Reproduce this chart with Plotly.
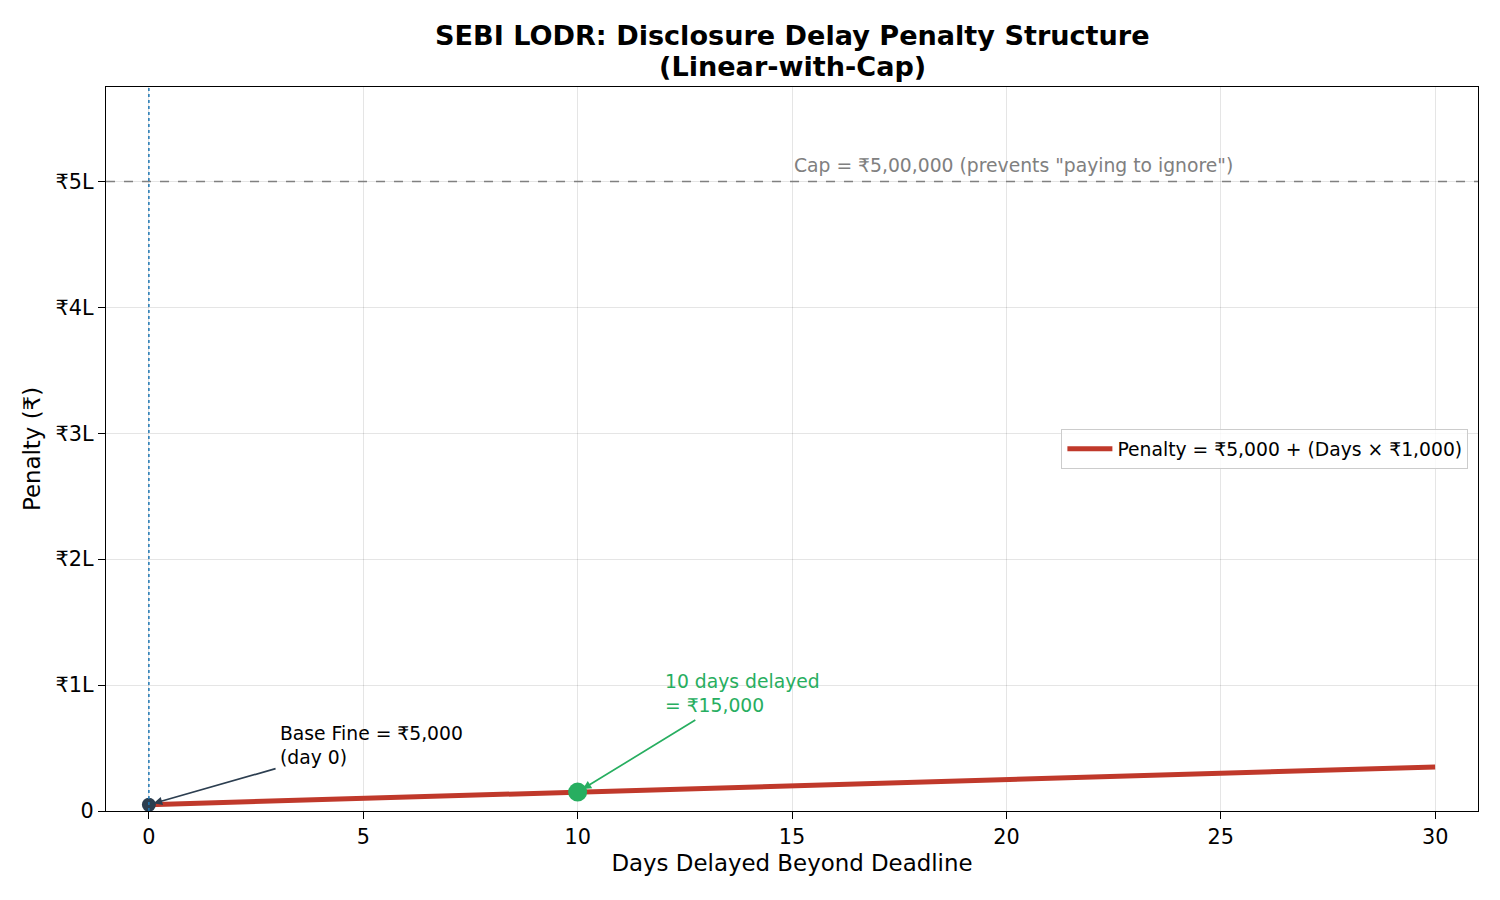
import plotly.graph_objects as go

days = [0, 1, 2, 3, 4, 5, 6, 7, 8, 9, 10, 11, 12, 13, 14, 15, 16, 17, 18, 19, 20,
        21, 22, 23, 24, 25, 26, 27, 28, 29, 30]
penalty = [5000, 6000, 7000, 8000, 9000, 10000, 11000, 12000, 13000, 14000, 15000,
           16000, 17000, 18000, 19000, 20000, 21000, 22000, 23000, 24000, 25000,
           26000, 27000, 28000, 29000, 30000, 31000, 32000, 33000, 34000, 35000]
cap_value = 500000
base_point = (0, 5000)
example_point = (10, 15000)
y_tick_vals = [0, 100000, 200000, 300000, 400000, 500000]
y_tick_text = ["0", "₹1L", "₹2L", "₹3L", "₹4L", "₹5L"]
x_tick_vals = [0, 5, 10, 15, 20, 25, 30]
title_lines = ["SEBI LODR: Disclosure Delay Penalty Structure", "(Linear-with-Cap)"]

FONT = "DejaVu Sans"
SMALL = 18.75
TICK = 20.8
LABEL = 22.9
TITLE = 27.1

fig = go.Figure()

fig.add_trace(go.Scatter(
    x=days, y=penalty, mode="lines",
    line=dict(color="#c0392b", width=5),
    name="Penalty = ₹5,000 + (Days × ₹1,000)",
))
fig.add_trace(go.Scatter(
    x=[base_point[0]], y=[base_point[1]], mode="markers",
    marker=dict(color="#2c3e50", size=14), showlegend=False,
))
fig.add_trace(go.Scatter(
    x=[example_point[0]], y=[example_point[1]], mode="markers",
    marker=dict(color="#27ae60", size=19), showlegend=False,
))

fig.add_shape(type="line", xref="paper", x0=0, x1=1, yref="y", y0=cap_value, y1=cap_value,
              line=dict(color="gray", width=1.6, dash="dash"))
fig.add_shape(type="line", xref="x", x0=0, x1=0, yref="paper", y0=0, y1=1,
              line=dict(color="#1f77b4", width=1.5, dash="dot"))

annotations = [
    # two-line bold title
    dict(x=0.5, y=1 + (87 - 36) / 724, xref="paper", yref="paper", text="<b>" + title_lines[0] + "</b>",
         showarrow=False, xanchor="center", yanchor="middle",
         font=dict(family=FONT, size=TITLE, color="black")),
    dict(x=0.5, y=1 + (87 - 66) / 724, xref="paper", yref="paper", text="<b>" + title_lines[1] + "</b>",
         showarrow=False, xanchor="center", yanchor="middle",
         font=dict(family=FONT, size=TITLE, color="black")),
    dict(x=15, y=cap_value + 3000, xref="x", yref="y", text="Cap = ₹5,00,000 (prevents \"paying to ignore\")",
         showarrow=False, xanchor="left", yanchor="bottom",
         font=dict(family=FONT, size=SMALL, color="gray")),
    dict(x=base_point[0], y=base_point[1], ax=2.99, ay=34000, xref="x", yref="y",
         axref="x", ayref="y", text="", showarrow=True, arrowhead=2, arrowsize=1,
         arrowwidth=1.7, arrowcolor="#2c3e50", standoff=5),
    dict(x=3, y=71500, xref="x", yref="y", text="Base Fine = ₹5,000<br>(day 0)",
         showarrow=False, xanchor="left", yanchor="top", align="left",
         font=dict(family=FONT, size=SMALL, color="black")),
    dict(x=example_point[0], y=example_point[1], ax=12.78, ay=73000, xref="x", yref="y",
         axref="x", ayref="y", text="", showarrow=True, arrowhead=2, arrowsize=1,
         arrowwidth=1.7, arrowcolor="#27ae60", standoff=6),
    dict(x=12, y=113000, xref="x", yref="y", text="10 days delayed<br>= ₹15,000",
         showarrow=False, xanchor="left", yanchor="top", align="left",
         font=dict(family=FONT, size=SMALL, color="#27ae60")),
]

fig.update_layout(
    width=1500, height=900,
    paper_bgcolor="white", plot_bgcolor="white",
    margin=dict(l=106, r=22, t=87, b=89),
    font=dict(family=FONT, size=SMALL, color="black"),
    annotations=annotations,
    showlegend=True,
    legend=dict(x=0.993, xanchor="right", y=0.5, yanchor="middle",
                bgcolor="rgba(255,255,255,0.8)", bordercolor="#cccccc", borderwidth=1,
                itemwidth=45, font=dict(family=FONT, size=SMALL)),
)

fig.update_xaxes(
    range=[-1, 31], tickvals=x_tick_vals,
    title=dict(text="Days Delayed Beyond Deadline", font=dict(family=FONT, size=LABEL), standoff=6),
    showline=True, linecolor="black", linewidth=1.4, mirror=True,
    ticks="outside", ticklen=7, tickwidth=1.4, tickcolor="black",
    showgrid=True, gridcolor="rgba(0,0,0,0.1)", zeroline=False,
    tickfont=dict(family=FONT, size=TICK),
)
fig.update_yaxes(
    range=[0, 575000], tickvals=y_tick_vals, ticktext=y_tick_text,
    title=dict(text="Penalty (₹)", font=dict(family=FONT, size=LABEL), standoff=8),
    showline=True, linecolor="black", linewidth=1.4, mirror=True,
    ticks="outside", ticklen=7, tickwidth=1.4, tickcolor="black",
    showgrid=True, gridcolor="rgba(0,0,0,0.1)", zeroline=False,
    tickfont=dict(family=FONT, size=TICK),
)

fig.write_html("out.html")
